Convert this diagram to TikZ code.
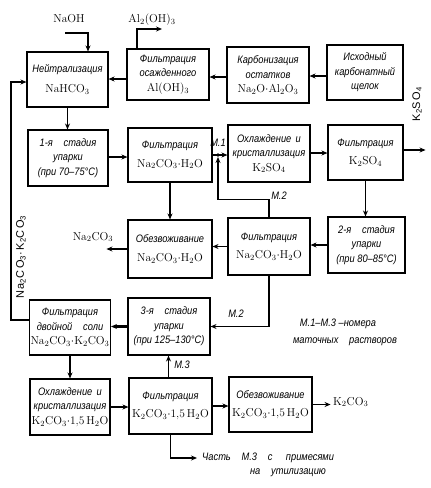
\documentclass[tikz,border=0pt]{standalone}
\usepackage{fontspec}
\newfontfamily\ru{Liberation Sans}[FakeStretch=0.86]
\newfontfamily\lsans{Liberation Sans}
\usetikzlibrary{arrows.meta}
\newcommand{\rt}[1]{{\ru\itshape\fontsize{10.8}{11}\selectfont #1}}
\begin{document}
\begin{tikzpicture}[x=1pt,y=-1pt,
  box/.style={draw,line width=1.1pt,inner sep=1pt,align=center,
    font=\fontsize{11.5}{14.5}\selectfont},
  arr/.style={line width=1.3pt,-{Stealth[length=6pt,width=5pt,inset=2pt]}},
  tarr/.style={arr,line width=2.2pt},
  lbl/.style={inner sep=0pt,font=\fontsize{11.5}{12}\selectfont},
  mlbl/.style={inner sep=0pt,font=\ru\itshape\fontsize{10.8}{11}\selectfont}]
\useasboundingbox (0,0) rectangle (431,488);
\fill[white] (0,0) rectangle (431,488);
% row 1
\node[box,minimum width=81,minimum height=55] (A) at (67.5,79.5) {\rt{Нейтрализация}\\[6pt]NaHCO$_3$};
\node[box,minimum width=82,minimum height=51] (B) at (168,74.5) {\rt{Фильтрация}\\\rt{осажденного}\\Al(OH)$_3$};
\node[box,minimum width=82,minimum height=56] (C) at (268,75) {\rt{Карбонизация}\\\rt{остатков}\\Na$_2$O$\cdot$Al$_2$O$_3$};
\node[box,minimum width=76,minimum height=55] (D) at (365,72.5) {\rt{Исходный}\\\rt{карбонатный}\\\rt{щелок}};
% row 2
\node[box,minimum width=80,minimum height=56] (E) at (68,158) {\rt{1-я\quad стадия}\\\rt{упарки}\\\rt{(при 70–75°C)}};
\node[box,minimum width=84,minimum height=54] (F) at (170,155) {\rt{Фильтрация}\\[4pt]Na$_2$CO$_3\cdot$H$_2$O};
\node[box,minimum width=82,minimum height=57] (G) at (269,153.5) {\rt{Охлаждение\, и}\\\rt{кристаллизация}\\K$_2$SO$_4$};
\node[box,minimum width=75,minimum height=55] (H) at (365.5,152.5) {\rt{Фильтрация}\\[4pt]K$_2$SO$_4$};
% row 3
\node[box,minimum width=77,minimum height=56] (I) at (366.5,245) {\rt{2-я\quad стадия}\\\rt{упарки}\\\rt{(при 80–85°C)}};
\node[box,minimum width=82,minimum height=57] (J) at (269,246.5) {\rt{Фильтрация}\\[4pt]Na$_2$CO$_3\cdot$H$_2$O};
\node[box,minimum width=84,minimum height=58] (K) at (170,249) {\rt{Обезвоживание}\\[4pt]Na$_2$CO$_3\cdot$H$_2$O};
% row 4
\node[box,minimum width=82,minimum height=57] (L) at (169,326.5) {\rt{3-я\quad стадия}\\\rt{упарки}\\\rt{(при 125–130°C)}};
\node[box,minimum width=80,minimum height=55] (M) at (70,327.5) {\rt{Фильтрация}\\\rt{двойной\quad соли}\\Na$_2$CO$_3\cdot$K$_2$CO$_3$};
% row 5
\node[box,minimum width=80,minimum height=56] (N) at (70,407) {\rt{Охлаждение\, и}\\\rt{кристаллизация}\\K$_2$CO$_3\cdot$1,5\,H$_2$O};
\node[box,minimum width=83,minimum height=56] (O) at (170.5,406) {\rt{Фильтрация}\\[4pt]K$_2$CO$_3\cdot$1,5\,H$_2$O};
\node[box,minimum width=83,minimum height=55] (P) at (270.5,404.5) {\rt{Обезвоживание}\\[4pt]K$_2$CO$_3\cdot$1,5\,H$_2$O};
% helper coordinates
\coordinate (naohS) at (65,33);
\coordinate (alE) at (162,29);
\coordinate (y76) at (0,76);
\coordinate (y77) at (0,77);
\coordinate (y79) at (0,79);
\coordinate (y82) at (0,82);
\coordinate (y157) at (0,157);
\coordinate (y155) at (0,155);
\coordinate (y153) at (0,153);
\coordinate (y150) at (0,150);
\coordinate (y320) at (0,320);
\coordinate (jn) at (218,157);
\coordinate (util) at (197,458);
% labels
\node[lbl] (naoh) at (69,19) {NaOH};
\node[lbl] (aloh) at (152,20) {Al$_2$(OH)$_3$};
\node[lbl] (naco) at (93,237) {Na$_2$CO$_3$};
\node[lbl,anchor=west] (kco) at (333,402) {K$_2$CO$_3$};
\node[inner sep=0pt,rotate=90,font=\lsans\fontsize{11}{12}\selectfont\addfontfeature{LetterSpace=14}] (nk) at (21,257) {Na\textsubscript{2}CO\textsubscript{3}·K\textsubscript{2}CO\textsubscript{3}};
\node[inner sep=0pt,rotate=90,font=\lsans\fontsize{11}{12}\selectfont\addfontfeature{LetterSpace=14}] (kso) at (417,104) {K\textsubscript{2}SO\textsubscript{4}};
\node[mlbl] (m1) at (218,143) {М.1};
\node[mlbl] (m2a) at (279,196) {М.2};
\node[mlbl] (m2b) at (236,314) {М.2};
\node[mlbl] (m3) at (182,365) {М.3};
\node[mlbl] (leg1) at (338,324) {М.1–М.3 –номера};
\node[mlbl] (leg2) at (345,342) {маточных\quad растворов};
\node[mlbl,anchor=west] (ut1) at (202,458) {Часть\quad М.3\quad с\quad\ примесями};
\node[mlbl] (ut2) at (288,473) {на\quad утилизацию};
% connectors
\draw[arr] (naohS) -| ([xshift=20.5]A.north);
\draw[arr] ([xshift=-31]B.north) |- (alE);
\draw[arr] (D.west |- y76) -- (C.east |- y76);
\draw[arr] (C.west |- y77) -- (B.east |- y77);
\draw[arr] (B.west |- y79) -- (A.east |- y79);
\draw[arr] (M.west |- y320) -- ++(-18,0) |- (A.west |- y82);
\draw[arr] (A.south) -- (A.south |- E.north);
\draw[tarr] (E.east |- y157) -- (F.west |- y157);
\draw[tarr] (F.east |- y155) -- (G.west |- y155);
\fill (218,155) circle (1.8);
\draw[arr] (J.north) -- ++(0,-18) -| (jn);
\draw[tarr] (G.east |- y153) -- (H.west |- y153);
\draw[arr] (H.east |- y150) -- ++(22,0);
\draw[arr] (H.south) -- (H.south |- I.north);
\draw[arr] (I.west) -- (I.west -| J.east);
\draw[arr] (J.west) -- (J.west -| K.east);
\draw[arr] (F.south) -- (F.south |- K.north);
\draw[arr] (K.west) -- ++(-21,0);
\draw[arr] (J.south) |- (L.east);
\draw[tarr] (L.west) -- (L.west -| M.east);
\draw[arr] (M.south) -- (M.south |- N.north);
\draw[tarr] (N.east) -- (N.east -| O.west);
\draw[arr] ([xshift=-2]O.north) -- ([xshift=-2]O.north |- L.south);
\draw[tarr] (O.east) -- (O.east -| P.west);
\draw[arr] (P.east) -- ++(18,0);
\draw[arr] (O.south) |- (util);
\end{tikzpicture}
\end{document}
